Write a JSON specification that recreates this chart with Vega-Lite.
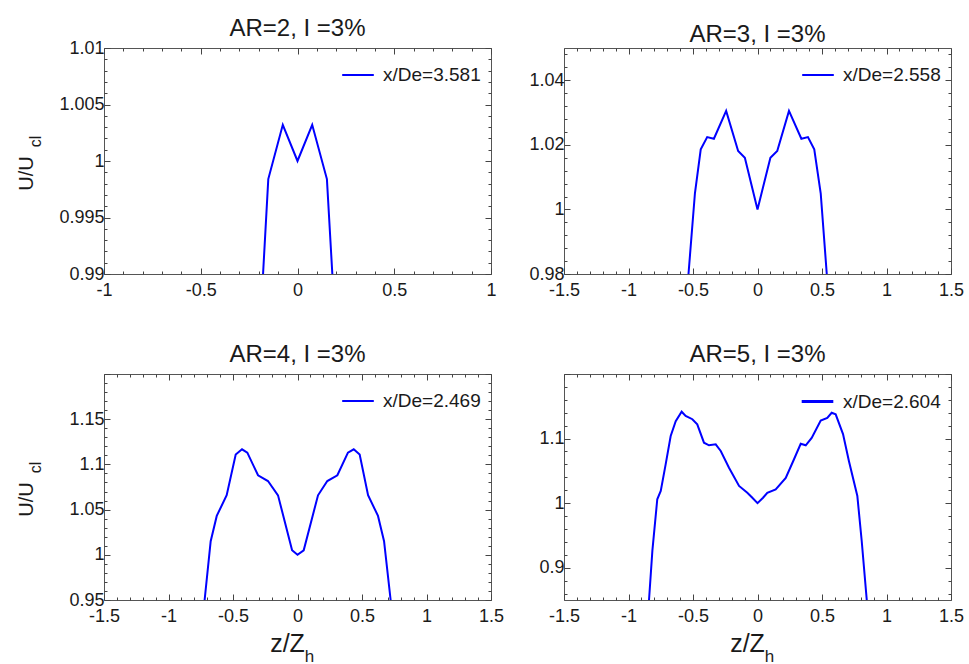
{
  "$schema": "https://vega.github.io/schema/vega-lite/v6.json",
  "background": "white",
  "padding": {"left": 15, "top": 16, "right": 5, "bottom": 0},
  "datasets": {
    "p1": [
      {"z": -0.178, "u": 0.99, "s": "x/De=3.581"},
      {"z": -0.151, "u": 0.9984, "s": "x/De=3.581"},
      {"z": -0.076, "u": 1.0032, "s": "x/De=3.581"},
      {"z": 0, "u": 1.0, "s": "x/De=3.581"},
      {"z": 0.076, "u": 1.0032, "s": "x/De=3.581"},
      {"z": 0.152, "u": 0.9984, "s": "x/De=3.581"},
      {"z": 0.18, "u": 0.99, "s": "x/De=3.581"}
    ],
    "p2": [
      {"z": -0.535, "u": 0.98, "s": "x/De=2.558"},
      {"z": -0.485, "u": 1.005, "s": "x/De=2.558"},
      {"z": -0.44, "u": 1.0186, "s": "x/De=2.558"},
      {"z": -0.39, "u": 1.0224, "s": "x/De=2.558"},
      {"z": -0.338, "u": 1.0219, "s": "x/De=2.558"},
      {"z": -0.243, "u": 1.0305, "s": "x/De=2.558"},
      {"z": -0.15, "u": 1.0181, "s": "x/De=2.558"},
      {"z": -0.098, "u": 1.016, "s": "x/De=2.558"},
      {"z": 0, "u": 1.0, "s": "x/De=2.558"},
      {"z": 0.1, "u": 1.016, "s": "x/De=2.558"},
      {"z": 0.153, "u": 1.0181, "s": "x/De=2.558"},
      {"z": 0.244, "u": 1.0305, "s": "x/De=2.558"},
      {"z": 0.34, "u": 1.0219, "s": "x/De=2.558"},
      {"z": 0.391, "u": 1.0224, "s": "x/De=2.558"},
      {"z": 0.44, "u": 1.0186, "s": "x/De=2.558"},
      {"z": 0.49, "u": 1.005, "s": "x/De=2.558"},
      {"z": 0.537, "u": 0.98, "s": "x/De=2.558"}
    ],
    "p3": [
      {"z": -0.72, "u": 0.95, "s": "x/De=2.469"},
      {"z": -0.673, "u": 1.015, "s": "x/De=2.469"},
      {"z": -0.626, "u": 1.043, "s": "x/De=2.469"},
      {"z": -0.549, "u": 1.066, "s": "x/De=2.469"},
      {"z": -0.479, "u": 1.111, "s": "x/De=2.469"},
      {"z": -0.43, "u": 1.1167, "s": "x/De=2.469"},
      {"z": -0.389, "u": 1.113, "s": "x/De=2.469"},
      {"z": -0.306, "u": 1.088, "s": "x/De=2.469"},
      {"z": -0.229, "u": 1.0816, "s": "x/De=2.469"},
      {"z": -0.151, "u": 1.0658, "s": "x/De=2.469"},
      {"z": -0.042, "u": 1.005, "s": "x/De=2.469"},
      {"z": 0, "u": 1.0, "s": "x/De=2.469"},
      {"z": 0.048, "u": 1.005, "s": "x/De=2.469"},
      {"z": 0.159, "u": 1.0658, "s": "x/De=2.469"},
      {"z": 0.231, "u": 1.0816, "s": "x/De=2.469"},
      {"z": 0.309, "u": 1.088, "s": "x/De=2.469"},
      {"z": 0.391, "u": 1.113, "s": "x/De=2.469"},
      {"z": 0.436, "u": 1.1167, "s": "x/De=2.469"},
      {"z": 0.482, "u": 1.111, "s": "x/De=2.469"},
      {"z": 0.547, "u": 1.066, "s": "x/De=2.469"},
      {"z": 0.624, "u": 1.043, "s": "x/De=2.469"},
      {"z": 0.671, "u": 1.015, "s": "x/De=2.469"},
      {"z": 0.722, "u": 0.95, "s": "x/De=2.469"}
    ],
    "p4": [
      {"z": -0.841, "u": 0.85, "s": "x/De=2.604"},
      {"z": -0.815, "u": 0.926, "s": "x/De=2.604"},
      {"z": -0.777, "u": 1.006, "s": "x/De=2.604"},
      {"z": -0.75, "u": 1.019, "s": "x/De=2.604"},
      {"z": -0.712, "u": 1.06, "s": "x/De=2.604"},
      {"z": -0.673, "u": 1.104, "s": "x/De=2.604"},
      {"z": -0.634, "u": 1.127, "s": "x/De=2.604"},
      {"z": -0.588, "u": 1.1416, "s": "x/De=2.604"},
      {"z": -0.557, "u": 1.135, "s": "x/De=2.604"},
      {"z": -0.505, "u": 1.13, "s": "x/De=2.604"},
      {"z": -0.467, "u": 1.122, "s": "x/De=2.604"},
      {"z": -0.415, "u": 1.0936, "s": "x/De=2.604"},
      {"z": -0.376, "u": 1.0896, "s": "x/De=2.604"},
      {"z": -0.324, "u": 1.0911, "s": "x/De=2.604"},
      {"z": -0.285, "u": 1.0808, "s": "x/De=2.604"},
      {"z": -0.221, "u": 1.0549, "s": "x/De=2.604"},
      {"z": -0.143, "u": 1.0266, "s": "x/De=2.604"},
      {"z": -0.079, "u": 1.0162, "s": "x/De=2.604"},
      {"z": -0.04, "u": 1.0084, "s": "x/De=2.604"},
      {"z": 0, "u": 1.0, "s": "x/De=2.604"},
      {"z": 0.043, "u": 1.0084, "s": "x/De=2.604"},
      {"z": 0.076, "u": 1.016, "s": "x/De=2.604"},
      {"z": 0.141, "u": 1.0214, "s": "x/De=2.604"},
      {"z": 0.219, "u": 1.039, "s": "x/De=2.604"},
      {"z": 0.283, "u": 1.068, "s": "x/De=2.604"},
      {"z": 0.335, "u": 1.092, "s": "x/De=2.604"},
      {"z": 0.374, "u": 1.0896, "s": "x/De=2.604"},
      {"z": 0.42, "u": 1.101, "s": "x/De=2.604"},
      {"z": 0.49, "u": 1.128, "s": "x/De=2.604"},
      {"z": 0.541, "u": 1.132, "s": "x/De=2.604"},
      {"z": 0.575, "u": 1.14, "s": "x/De=2.604"},
      {"z": 0.606, "u": 1.1376, "s": "x/De=2.604"},
      {"z": 0.663, "u": 1.107, "s": "x/De=2.604"},
      {"z": 0.709, "u": 1.065, "s": "x/De=2.604"},
      {"z": 0.774, "u": 1.011, "s": "x/De=2.604"},
      {"z": 0.808, "u": 0.941, "s": "x/De=2.604"},
      {"z": 0.847, "u": 0.85, "s": "x/De=2.604"}
    ]
  },
  "config": {
    "font": "Liberation Sans",
    "view": {"stroke": "#555", "strokeWidth": 1},
    "axis": {
      "grid": false,
      "domain": false,
      "labelFont": "Liberation Sans",
      "labelFontSize": 18,
      "labelColor": "#1a1a1a",
      "tickColor": "#444",
      "tickWidth": 1,
      "labelOverlap": false,
      "labelFlush": false,
      "titleFont": "Liberation Sans",
      "titleFontWeight": "normal",
      "titleColor": "#1a1a1a"
    },
    "axisX": {"labelPadding": 13},
    "axisY": {"labelPadding": 6},
    "title": {"font": "Liberation Sans", "fontSize": 24, "fontWeight": "normal", "color": "#1a1a1a", "anchor": "middle", "frame": "group", "offset": -2},
    "legend": {"labelFont": "Liberation Sans", "labelFontSize": 19, "labelColor": "#1a1a1a", "symbolType": "stroke", "symbolSize": 1000, "symbolStrokeWidth": 2, "labelOffset": 8, "orient": "top-right", "offset": 10, "padding": 0}
  },
  "columns": 2,
  "spacing": {"row": 100, "column": 73},
  "bounds": "flush",
  "resolve": {"scale": {"color": "independent"}, "legend": {"color": "independent"}},
  "concat": [
    {
      "width": 387, "height": 226,
      "title": "AR=2, I =3%",
      "data": {"name": "p1"},
      "layer": [
        {
          "mark": {"type": "line", "color": "#0000ff", "strokeWidth": 2, "clip": true},
          "encoding": {
            "x": {"field": "z", "type": "quantitative", "scale": {"domain": [-1, 1], "nice": false, "zero": false},
              "axis": {"orient": "bottom", "title": null,
                "values": [-1, -0.9, -0.8, -0.7, -0.6, -0.5, -0.4, -0.3, -0.2, -0.1, 0, 0.1, 0.2, 0.3, 0.4, 0.5, 0.6, 0.7, 0.8, 0.9, 1],
                "labelExpr": "abs(datum.value*2-round(datum.value*2))<1e-6 ? '' + round(datum.value*1000)/1000 : ''",
                "tickSize": {"condition": {"test": "abs(datum.value*2-round(datum.value*2))<1e-6", "value": -6}, "value": -3}}},
            "y": {"field": "u", "type": "quantitative", "scale": {"domain": [0.99, 1.01], "nice": false, "zero": false},
              "axis": {"orient": "left", "title": "U/U", "titleFontSize": 20, "titleX": -72, "titleY": 125, "titleAlign": "center", "titleBaseline": "alphabetic", "titleAngle": -90,
                "values": [0.99, 0.991, 0.992, 0.993, 0.994, 0.995, 0.996, 0.997, 0.998, 0.999, 1, 1.001, 1.002, 1.003, 1.004, 1.005, 1.006, 1.007, 1.008, 1.009, 1.01],
                "labelExpr": "abs(datum.value*200-round(datum.value*200))<1e-6 ? '' + round(datum.value*1000)/1000 : ''",
                "tickSize": {"condition": {"test": "abs(datum.value*200-round(datum.value*200))<1e-6", "value": -6}, "value": -3}}},
            "color": {"field": "s", "type": "nominal", "scale": {"range": ["#0000ff"]}, "legend": {"title": null}}
          }
        },
        {
          "mark": {"type": "line", "opacity": 0},
          "encoding": {
            "x": {"field": "z", "type": "quantitative",
              "axis": {"orient": "top", "title": null, "labels": false,
                "values": [-1, -0.9, -0.8, -0.7, -0.6, -0.5, -0.4, -0.3, -0.2, -0.1, 0, 0.1, 0.2, 0.3, 0.4, 0.5, 0.6, 0.7, 0.8, 0.9, 1],
                "tickSize": {"condition": {"test": "abs(datum.value*2-round(datum.value*2))<1e-6", "value": -6}, "value": -3}}},
            "y": {"field": "u", "type": "quantitative",
              "axis": {"orient": "right", "title": null, "labels": false,
                "values": [0.99, 0.991, 0.992, 0.993, 0.994, 0.995, 0.996, 0.997, 0.998, 0.999, 1, 1.001, 1.002, 1.003, 1.004, 1.005, 1.006, 1.007, 1.008, 1.009, 1.01],
                "tickSize": {"condition": {"test": "abs(datum.value*200-round(datum.value*200))<1e-6", "value": -6}, "value": -3}}}
          }
        },
        {
          "mark": {"type": "line", "opacity": 0},
          "encoding": {
            "x": {"field": "z", "type": "quantitative", "axis": null},
            "y": {"field": "u", "type": "quantitative",
              "axis": {"orient": "left", "title": "cl", "titleFontSize": 16, "titleX": -64, "titleY": 93, "titleAlign": "center", "titleBaseline": "alphabetic", "titleAngle": -90, "labels": false, "ticks": false, "values": []}}
          }
        }
      ],
      "resolve": {"axis": {"x": "independent", "y": "independent"}}
    },
    {
      "width": 387, "height": 226,
      "title": "AR=3, I =3%",
      "data": {"name": "p2"},
      "layer": [
        {
          "mark": {"type": "line", "color": "#0000ff", "strokeWidth": 2, "clip": true},
          "encoding": {
            "x": {"field": "z", "type": "quantitative", "scale": {"domain": [-1.5, 1.5], "nice": false, "zero": false},
              "axis": {"orient": "bottom", "title": null,
                "values": [-1.5, -1.4, -1.3, -1.2, -1.1, -1, -0.9, -0.8, -0.7, -0.6, -0.5, -0.4, -0.3, -0.2, -0.1, 0, 0.1, 0.2, 0.3, 0.4, 0.5, 0.6, 0.7, 0.8, 0.9, 1, 1.1, 1.2, 1.3, 1.4, 1.5],
                "labelExpr": "abs(datum.value*2-round(datum.value*2))<1e-6 ? '' + round(datum.value*1000)/1000 : ''",
                "tickSize": {"condition": {"test": "abs(datum.value*2-round(datum.value*2))<1e-6", "value": -6}, "value": -3}}},
            "y": {"field": "u", "type": "quantitative", "scale": {"domain": [0.98, 1.05], "nice": false, "zero": false},
              "axis": {"orient": "left", "title": null,
                "values": [0.98, 0.984, 0.988, 0.992, 0.996, 1, 1.004, 1.008, 1.012, 1.016, 1.02, 1.024, 1.028, 1.032, 1.036, 1.04, 1.044, 1.048],
                "labelExpr": "abs(datum.value*50-round(datum.value*50))<1e-6 ? '' + round(datum.value*1000)/1000 : ''",
                "tickSize": {"condition": {"test": "abs(datum.value*50-round(datum.value*50))<1e-6", "value": -6}, "value": -3}}},
            "color": {"field": "s", "type": "nominal", "scale": {"range": ["#0000ff"]}, "legend": {"title": null}}
          }
        },
        {
          "mark": {"type": "line", "opacity": 0},
          "encoding": {
            "x": {"field": "z", "type": "quantitative",
              "axis": {"orient": "top", "title": null, "labels": false,
                "values": [-1.5, -1.4, -1.3, -1.2, -1.1, -1, -0.9, -0.8, -0.7, -0.6, -0.5, -0.4, -0.3, -0.2, -0.1, 0, 0.1, 0.2, 0.3, 0.4, 0.5, 0.6, 0.7, 0.8, 0.9, 1, 1.1, 1.2, 1.3, 1.4, 1.5],
                "tickSize": {"condition": {"test": "abs(datum.value*2-round(datum.value*2))<1e-6", "value": -6}, "value": -3}}},
            "y": {"field": "u", "type": "quantitative",
              "axis": {"orient": "right", "title": null, "labels": false,
                "values": [0.98, 0.984, 0.988, 0.992, 0.996, 1, 1.004, 1.008, 1.012, 1.016, 1.02, 1.024, 1.028, 1.032, 1.036, 1.04, 1.044, 1.048],
                "tickSize": {"condition": {"test": "abs(datum.value*50-round(datum.value*50))<1e-6", "value": -6}, "value": -3}}}
          }
        }
      ],
      "resolve": {"axis": {"x": "independent", "y": "independent"}}
    },
    {
      "width": 387, "height": 226,
      "title": "AR=4, I =3%",
      "data": {"name": "p3"},
      "layer": [
        {
          "mark": {"type": "line", "color": "#0000ff", "strokeWidth": 2, "clip": true},
          "encoding": {
            "x": {"field": "z", "type": "quantitative", "scale": {"domain": [-1.5, 1.5], "nice": false, "zero": false},
              "axis": {"orient": "bottom", "title": "z/Z", "titleFontSize": 25, "titleX": 183, "titleY": 51, "titleAlign": "center", "titleBaseline": "alphabetic",
                "values": [-1.5, -1.4, -1.3, -1.2, -1.1, -1, -0.9, -0.8, -0.7, -0.6, -0.5, -0.4, -0.3, -0.2, -0.1, 0, 0.1, 0.2, 0.3, 0.4, 0.5, 0.6, 0.7, 0.8, 0.9, 1, 1.1, 1.2, 1.3, 1.4, 1.5],
                "labelExpr": "abs(datum.value*2-round(datum.value*2))<1e-6 ? '' + round(datum.value*1000)/1000 : ''",
                "tickSize": {"condition": {"test": "abs(datum.value*2-round(datum.value*2))<1e-6", "value": -6}, "value": -3}}},
            "y": {"field": "u", "type": "quantitative", "scale": {"domain": [0.95, 1.2], "nice": false, "zero": false},
              "axis": {"orient": "left", "title": "U/U", "titleFontSize": 20, "titleX": -72, "titleY": 125, "titleAlign": "center", "titleBaseline": "alphabetic", "titleAngle": -90,
                "values": [0.95, 0.96, 0.97, 0.98, 0.99, 1, 1.01, 1.02, 1.03, 1.04, 1.05, 1.06, 1.07, 1.08, 1.09, 1.1, 1.11, 1.12, 1.13, 1.14, 1.15, 1.16, 1.17, 1.18, 1.19, 1.2],
                "labelExpr": "abs(datum.value*20-round(datum.value*20))<1e-6 && datum.value < 1.19 ? '' + round(datum.value*1000)/1000 : ''",
                "tickSize": {"condition": {"test": "abs(datum.value*20-round(datum.value*20))<1e-6", "value": -6}, "value": -3}}},
            "color": {"field": "s", "type": "nominal", "scale": {"range": ["#0000ff"]}, "legend": {"title": null}}
          }
        },
        {
          "mark": {"type": "line", "opacity": 0},
          "encoding": {
            "x": {"field": "z", "type": "quantitative",
              "axis": {"orient": "top", "title": null, "labels": false,
                "values": [-1.5, -1.4, -1.3, -1.2, -1.1, -1, -0.9, -0.8, -0.7, -0.6, -0.5, -0.4, -0.3, -0.2, -0.1, 0, 0.1, 0.2, 0.3, 0.4, 0.5, 0.6, 0.7, 0.8, 0.9, 1, 1.1, 1.2, 1.3, 1.4, 1.5],
                "tickSize": {"condition": {"test": "abs(datum.value*2-round(datum.value*2))<1e-6", "value": -6}, "value": -3}}},
            "y": {"field": "u", "type": "quantitative",
              "axis": {"orient": "right", "title": null, "labels": false,
                "values": [0.95, 0.96, 0.97, 0.98, 0.99, 1, 1.01, 1.02, 1.03, 1.04, 1.05, 1.06, 1.07, 1.08, 1.09, 1.1, 1.11, 1.12, 1.13, 1.14, 1.15, 1.16, 1.17, 1.18, 1.19, 1.2],
                "tickSize": {"condition": {"test": "abs(datum.value*20-round(datum.value*20))<1e-6", "value": -6}, "value": -3}}}
          }
        },
        {
          "mark": {"type": "line", "opacity": 0},
          "encoding": {
            "x": {"field": "z", "type": "quantitative",
              "axis": {"orient": "bottom", "title": "h", "titleFontSize": 17, "titleX": 205, "titleY": 61, "titleAlign": "center", "titleBaseline": "alphabetic", "labels": false, "ticks": false, "values": []}},
            "y": {"field": "u", "type": "quantitative",
              "axis": {"orient": "left", "title": "cl", "titleFontSize": 16, "titleX": -64, "titleY": 93, "titleAlign": "center", "titleBaseline": "alphabetic", "titleAngle": -90, "labels": false, "ticks": false, "values": []}}
          }
        }
      ],
      "resolve": {"axis": {"x": "independent", "y": "independent"}}
    },
    {
      "width": 387, "height": 226,
      "title": "AR=5, I =3%",
      "data": {"name": "p4"},
      "layer": [
        {
          "mark": {"type": "line", "color": "#0000ff", "strokeWidth": 2, "clip": true},
          "encoding": {
            "x": {"field": "z", "type": "quantitative", "scale": {"domain": [-1.5, 1.5], "nice": false, "zero": false},
              "axis": {"orient": "bottom", "title": "z/Z", "titleFontSize": 25, "titleX": 183, "titleY": 51, "titleAlign": "center", "titleBaseline": "alphabetic",
                "values": [-1.5, -1.4, -1.3, -1.2, -1.1, -1, -0.9, -0.8, -0.7, -0.6, -0.5, -0.4, -0.3, -0.2, -0.1, 0, 0.1, 0.2, 0.3, 0.4, 0.5, 0.6, 0.7, 0.8, 0.9, 1, 1.1, 1.2, 1.3, 1.4, 1.5],
                "labelExpr": "abs(datum.value*2-round(datum.value*2))<1e-6 ? '' + round(datum.value*1000)/1000 : ''",
                "tickSize": {"condition": {"test": "abs(datum.value*2-round(datum.value*2))<1e-6", "value": -6}, "value": -3}}},
            "y": {"field": "u", "type": "quantitative", "scale": {"domain": [0.85, 1.2], "nice": false, "zero": false},
              "axis": {"orient": "left", "title": null,
                "values": [0.86, 0.88, 0.9, 0.92, 0.94, 0.96, 0.98, 1, 1.02, 1.04, 1.06, 1.08, 1.1, 1.12, 1.14, 1.16, 1.18, 1.2],
                "labelExpr": "abs(datum.value*10-round(datum.value*10))<1e-6 && datum.value < 1.19 ? '' + round(datum.value*1000)/1000 : ''",
                "tickSize": {"condition": {"test": "abs(datum.value*10-round(datum.value*10))<1e-6", "value": -6}, "value": -3}}},
            "color": {"field": "s", "type": "nominal", "scale": {"range": ["#0000ff"]}, "legend": {"title": null, "symbolStrokeWidth": 3}}
          }
        },
        {
          "mark": {"type": "line", "opacity": 0},
          "encoding": {
            "x": {"field": "z", "type": "quantitative",
              "axis": {"orient": "top", "title": null, "labels": false,
                "values": [-1.5, -1.4, -1.3, -1.2, -1.1, -1, -0.9, -0.8, -0.7, -0.6, -0.5, -0.4, -0.3, -0.2, -0.1, 0, 0.1, 0.2, 0.3, 0.4, 0.5, 0.6, 0.7, 0.8, 0.9, 1, 1.1, 1.2, 1.3, 1.4, 1.5],
                "tickSize": {"condition": {"test": "abs(datum.value*2-round(datum.value*2))<1e-6", "value": -6}, "value": -3}}},
            "y": {"field": "u", "type": "quantitative",
              "axis": {"orient": "right", "title": null, "labels": false,
                "values": [0.86, 0.88, 0.9, 0.92, 0.94, 0.96, 0.98, 1, 1.02, 1.04, 1.06, 1.08, 1.1, 1.12, 1.14, 1.16, 1.18, 1.2],
                "tickSize": {"condition": {"test": "abs(datum.value*10-round(datum.value*10))<1e-6", "value": -6}, "value": -3}}}
          }
        },
        {
          "mark": {"type": "line", "opacity": 0},
          "encoding": {
            "x": {"field": "z", "type": "quantitative",
              "axis": {"orient": "bottom", "title": "h", "titleFontSize": 17, "titleX": 205, "titleY": 61, "titleAlign": "center", "titleBaseline": "alphabetic", "labels": false, "ticks": false, "values": []}},
            "y": {"field": "u", "type": "quantitative", "axis": null}
          }
        }
      ],
      "resolve": {"axis": {"x": "independent", "y": "independent"}}
    }
  ]
}
